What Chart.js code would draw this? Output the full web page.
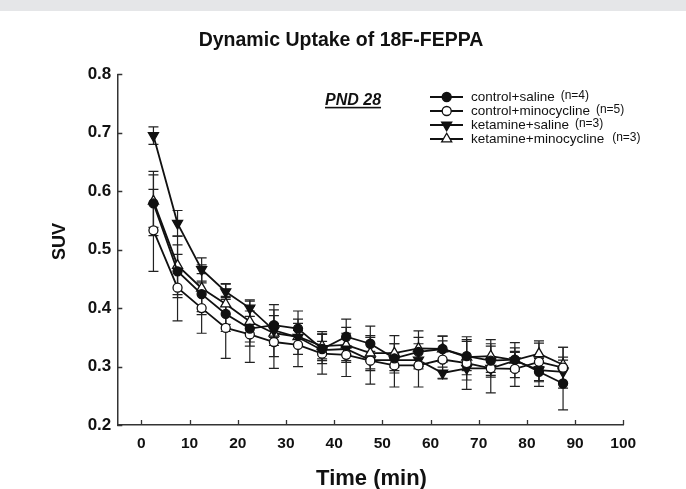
<!DOCTYPE html>
<html>
<head>
<meta charset="utf-8">
<script src="https://cdn.jsdelivr.net/npm/chart.js@4.4.1/dist/chart.umd.min.js"></script>
<style>
  html, body { margin: 0; padding: 0; background: #ffffff; }
  #wrap { position: relative; width: 686px; height: 489px; }
  #band { position: absolute; left: 0; top: 0; width: 686px; height: 11px; background: #e5e6e8; }
</style>
</head>
<body>
<div id="wrap">
  <div id="band"></div>
  <canvas id="c" width="686" height="489"></canvas>
</div>
<script>
// ---- data ----
const times = [2.5, 7.5, 12.5, 17.5, 22.5, 27.5, 32.5, 37.5, 42.5, 47.5, 52.5, 57.5, 62.5, 67.5, 72.5, 77.5, 82.5, 87.5];

const ctrlSaline    = [0.579, 0.463, 0.424, 0.390, 0.365, 0.371, 0.365, 0.330, 0.351, 0.339, 0.314, 0.325, 0.330, 0.318, 0.310, 0.312, 0.291, 0.271];
const ctrlSalineErr = [0.055, 0.045, 0.035, 0.030, 0.030, 0.035, 0.030, 0.025, 0.030, 0.030, 0.025, 0.025, 0.022, 0.025, 0.025, 0.020, 0.025, 0.045];

const ctrlMino      = [0.533, 0.435, 0.400, 0.366, 0.355, 0.342, 0.337, 0.322, 0.320, 0.310, 0.302, 0.302, 0.312, 0.306, 0.297, 0.296, 0.308, 0.298];
const ctrlMinoErr   = [0.070, 0.057, 0.043, 0.052, 0.048, 0.045, 0.037, 0.035, 0.037, 0.040, 0.037, 0.037, 0.032, 0.045, 0.042, 0.030, 0.032, 0.035];

const ketSaline     = [0.695, 0.545, 0.466, 0.428, 0.400, 0.362, 0.350, 0.328, 0.330, 0.311, 0.311, 0.311, 0.289, 0.297, 0.297, 0.310, 0.294, 0.291];
const ketSalineErr  = [0.015, 0.022, 0.020, 0.013, 0.014, 0.012, 0.012, 0.015, 0.020, 0.015, 0.012, 0.015, 0.010, 0.020, 0.015, 0.014, 0.020, 0.020];

const ketMino       = [0.583, 0.473, 0.434, 0.407, 0.377, 0.357, 0.351, 0.335, 0.337, 0.323, 0.323, 0.331, 0.330, 0.316, 0.318, 0.311, 0.322, 0.303];
const ketMinoErr    = [0.045, 0.050, 0.040, 0.035, 0.035, 0.040, 0.030, 0.025, 0.030, 0.030, 0.030, 0.030, 0.022, 0.030, 0.028, 0.030, 0.022, 0.030];

const xTickValues = [0, 10, 20, 30, 40, 50, 60, 70, 80, 90, 100];
const yTickValues = [0.2, 0.3, 0.4, 0.5, 0.6, 0.7, 0.8];

const seriesLabels = ['control+saline', 'control+minocycline', 'ketamine+saline', 'ketamine+minocycline'];
const seriesN      = ['(n=4)', '(n=5)', '(n=3)', '(n=3)'];

const titleText = 'Dynamic Uptake of 18F-FEPPA';
const xTitle = 'Time (min)';
const yTitle = 'SUV';
const panelText = 'PND 28';

// ---- styling ----
const INK = '#111111';
const FONT = '"Liberation Sans", Arial, Helvetica, sans-serif';
const styles = [
  { shape: 'circle',   filled: true,  rot: 0,   r: 4.5 },
  { shape: 'circle',   filled: false, rot: 0,   r: 4.5 },
  { shape: 'triangle', filled: true,  rot: 180, r: 5.8 },
  { shape: 'triangle', filled: false, rot: 0,   r: 5.8 }
];
const seriesValues = [ctrlSaline, ctrlMino, ketSaline, ketMino];
const seriesErrors = [ctrlSalineErr, ctrlMinoErr, ketSalineErr, ketMinoErr];

const datasets = seriesValues.map((vals, i) => ({
  label: seriesLabels[i],
  data: vals.map((v, j) => ({ x: times[j], y: v })),
  borderColor: INK,
  borderWidth: 1.8,
  pointStyle: styles[i].shape,
  pointRotation: styles[i].rot,
  pointRadius: styles[i].r,
  pointBackgroundColor: styles[i].filled ? INK : '#ffffff',
  pointBorderColor: INK,
  pointBorderWidth: 1.3,
  tension: 0,
  fill: false,
  clip: false
}));

function drawMarker(ctx, st, x, y) {
  ctx.save();
  ctx.beginPath();
  if (st.shape === 'circle') {
    ctx.arc(x, y, st.r, 0, Math.PI * 2);
  } else {
    let rad = st.rot * Math.PI / 180;
    ctx.moveTo(x + Math.sin(rad) * st.r, y - Math.cos(rad) * st.r);
    rad += 2 * Math.PI / 3;
    ctx.lineTo(x + Math.sin(rad) * st.r, y - Math.cos(rad) * st.r);
    rad += 2 * Math.PI / 3;
    ctx.lineTo(x + Math.sin(rad) * st.r, y - Math.cos(rad) * st.r);
    ctx.closePath();
  }
  ctx.fillStyle = st.filled ? INK : '#ffffff';
  ctx.fill();
  ctx.lineWidth = 1.3;
  ctx.strokeStyle = INK;
  ctx.stroke();
  ctx.restore();
}

const errorBars = {
  id: 'errorBars',
  beforeDatasetsDraw(chart) {
    const ctx = chart.ctx, xs = chart.scales.x, ys = chart.scales.y;
    ctx.save();
    ctx.strokeStyle = '#222';
    ctx.lineWidth = 1.2;
    seriesValues.forEach((vals, i) => {
      vals.forEach((v, j) => {
        const px = xs.getPixelForValue(times[j]);
        const pt = ys.getPixelForValue(v + seriesErrors[i][j]);
        const pb = ys.getPixelForValue(v - seriesErrors[i][j]);
        ctx.beginPath();
        ctx.moveTo(px, pt); ctx.lineTo(px, pb);
        ctx.moveTo(px - 5, pt); ctx.lineTo(px + 5, pt);
        ctx.moveTo(px - 5, pb); ctx.lineTo(px + 5, pb);
        ctx.stroke();
      });
    });
    ctx.restore();
  }
};

const decorations = {
  id: 'decorations',
  afterDraw(chart) {
    const ctx = chart.ctx, xs = chart.scales.x, ys = chart.scales.y;
    const area = chart.chartArea;
    ctx.save();
    // inward tick marks
    ctx.strokeStyle = '#333';
    ctx.lineWidth = 1.3;
    ctx.beginPath();
    xTickValues.forEach(v => {
      const px = Math.round(xs.getPixelForValue(v)) + 0.5;
      ctx.moveTo(px, area.bottom); ctx.lineTo(px, area.bottom - 5);
    });
    yTickValues.forEach(v => {
      const py = Math.round(ys.getPixelForValue(v)) + 0.5;
      ctx.moveTo(area.left, py); ctx.lineTo(area.left + 5, py);
    });
    ctx.stroke();

    ctx.fillStyle = INK;
    // title
    ctx.font = 'bold 19.5px ' + FONT;
    ctx.textAlign = 'center';
    ctx.textBaseline = 'alphabetic';
    ctx.fillText(titleText, 341, 45.5);
    // x axis title
    ctx.font = 'bold 22px ' + FONT;
    ctx.fillText(xTitle, 371.5, 484.5);
    // y axis title
    ctx.save();
    ctx.translate(65, 241.5);
    ctx.rotate(-Math.PI / 2);
    ctx.font = 'bold 18px ' + FONT;
    ctx.fillText(yTitle, 0, 0);
    ctx.restore();

    // panel label
    ctx.font = 'italic bold 16px ' + FONT;
    ctx.textAlign = 'left';
    ctx.fillText(panelText, 325, 105);
    const w = ctx.measureText(panelText).width;
    ctx.fillRect(325, 106.8, w, 1.6);

    // legend
    const rows = [97, 111, 125, 139];
    rows.forEach((ry, i) => {
      ctx.strokeStyle = INK;
      ctx.lineWidth = 1.8;
      ctx.beginPath();
      ctx.moveTo(430, ry); ctx.lineTo(463, ry);
      ctx.stroke();
      drawMarker(ctx, styles[i], 446.7, ry);
      ctx.fillStyle = INK;
      ctx.textBaseline = 'middle';
      ctx.font = '13.5px ' + FONT;
      ctx.fillText(seriesLabels[i], 471, ry);
      const tw = ctx.measureText(seriesLabels[i]).width;
      ctx.font = '12px ' + FONT;
      ctx.fillText(seriesN[i], 471 + tw + (i === 3 ? 8 : 6), ry - 1);
    });
    ctx.restore();
  }
};

new Chart(document.getElementById('c'), {
  type: 'line',
  data: { datasets },
  options: {
    responsive: false,
    animation: false,
    devicePixelRatio: 1,
    layout: { padding: { left: 0, top: 74.3, right: 62.7, bottom: 0 } },
    plugins: { legend: { display: false }, title: { display: false }, tooltip: { enabled: false } },
    scales: {
      x: {
        type: 'linear',
        min: -5, max: 100,
        afterFit(s) { s.height = 64; },
        afterBuildTicks(s) { s.ticks = xTickValues.map(v => ({ value: v })); },
        grid: { display: false, drawTicks: false },
        border: { display: true, color: '#333', width: 1.5 },
        ticks: {
          padding: 9,
          color: INK,
          font: { family: FONT, size: 15.5, weight: 'bold' },
          callback: v => String(v)
        }
      },
      y: {
        type: 'linear',
        min: 0.2, max: 0.8,
        afterFit(s) { s.width = 117.3; },
        afterBuildTicks(s) { s.ticks = yTickValues.map(v => ({ value: v })); },
        grid: { display: false, drawTicks: false },
        border: { display: true, color: '#333', width: 1.5 },
        ticks: {
          padding: 6,
          color: INK,
          font: { family: FONT, size: 17, weight: 'bold' },
          callback: v => Number(v).toFixed(1)
        }
      }
    }
  },
  plugins: [errorBars, decorations]
});
</script>
</body>
</html>
